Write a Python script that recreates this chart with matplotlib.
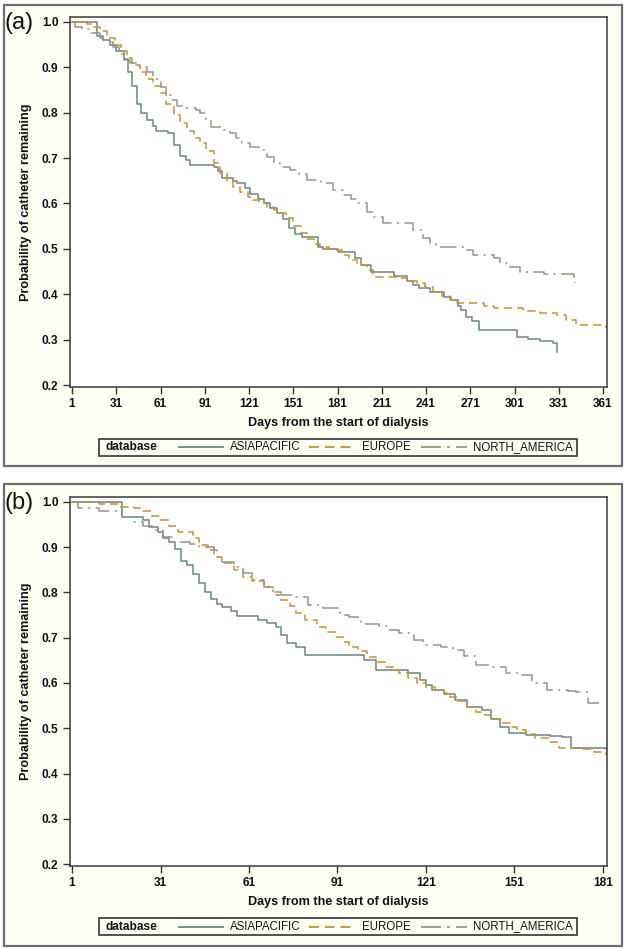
import matplotlib
matplotlib.use("Agg")
import matplotlib.pyplot as plt
from matplotlib.patches import Rectangle
from matplotlib.lines import Line2D

plt.rcParams['font.family'] = ['Liberation Sans', 'DejaVu Sans']

# ---------------- data ----------------
series_names = ["ASIAPACIFIC", "EUROPE", "NORTH_AMERICA"]

# Panel (a): 1-year
asia_a_days = [1, 18, 22, 27, 31, 36, 39, 42, 45, 48, 52, 56, 58, 66, 70, 74, 78, 81, 97, 100, 103, 110,
               113, 118, 122, 127, 131, 135, 140, 144, 148, 152, 157, 168, 171, 181, 193, 197, 204, 219,
               228, 232, 236, 244, 253, 258, 263, 265, 268, 272, 277, 303, 310, 318, 327, 330]
asia_a_surv = [1.0, 0.97, 0.96, 0.95, 0.935, 0.918, 0.89, 0.86, 0.82, 0.80, 0.785, 0.77, 0.76, 0.755, 0.73,
               0.705, 0.695, 0.685, 0.68, 0.672, 0.656, 0.65, 0.645, 0.635, 0.622, 0.61, 0.60, 0.59, 0.578,
               0.565, 0.545, 0.532, 0.527, 0.505, 0.50, 0.494, 0.48, 0.465, 0.45, 0.44, 0.43, 0.42, 0.413,
               0.406, 0.395, 0.387, 0.375, 0.365, 0.35, 0.34, 0.321, 0.306, 0.302, 0.298, 0.293, 0.273]

europe_a_days = [1, 11, 15, 20, 25, 30, 34, 38, 42, 47, 51, 56, 61, 65, 70, 74, 79, 84, 88, 92, 97, 101,
                 106, 110, 115, 120, 124, 128, 133, 138, 142, 146, 151, 156, 160, 165, 169, 175, 178, 184,
                 189, 194, 201, 205, 223, 228, 235, 240, 246, 252, 257, 262, 273, 280, 287, 300, 307, 318,
                 330, 336, 343, 357, 363]
europe_a_surv = [1.0, 0.995, 0.99, 0.98, 0.965, 0.95, 0.935, 0.92, 0.905, 0.89, 0.875, 0.86, 0.843, 0.82,
                 0.795, 0.777, 0.76, 0.745, 0.733, 0.715, 0.69, 0.667, 0.65, 0.637, 0.625, 0.615, 0.607,
                 0.60, 0.592, 0.585, 0.579, 0.568, 0.55, 0.535, 0.522, 0.51, 0.504, 0.50, 0.497, 0.487,
                 0.475, 0.465, 0.453, 0.439, 0.436, 0.43, 0.425, 0.415, 0.406, 0.397, 0.387, 0.38, 0.38,
                 0.375, 0.37, 0.37, 0.362, 0.358, 0.354, 0.343, 0.332, 0.332, 0.326]

namerica_a_days = [1, 3, 8, 14, 20, 25, 29, 33, 36, 40, 47, 52, 56, 61, 65, 68, 72, 78, 85, 88, 92, 95,
                   103, 108, 112, 116, 122, 128, 133, 138, 142, 149, 155, 160, 170, 178, 185, 190, 194,
                   201, 205, 212, 225, 232, 239, 244, 248, 262, 266, 273, 287, 291, 298, 305, 312, 321,
                   339, 341, 342]
namerica_a_surv = [1.0, 0.99, 0.985, 0.975, 0.965, 0.955, 0.945, 0.93, 0.916, 0.91, 0.901, 0.89, 0.875,
                   0.857, 0.84, 0.828, 0.815, 0.81, 0.805, 0.799, 0.785, 0.769, 0.762, 0.755, 0.745, 0.733,
                   0.725, 0.718, 0.703, 0.69, 0.68, 0.674, 0.665, 0.652, 0.645, 0.63, 0.619, 0.61, 0.601,
                   0.581, 0.57, 0.557, 0.557, 0.542, 0.524, 0.512, 0.505, 0.505, 0.497, 0.486, 0.48, 0.469,
                   0.46, 0.45, 0.45, 0.445, 0.445, 0.431, 0.425]

# Panel (b): 6-month
asia_b_days = [1, 18, 25, 27, 30, 32, 34, 36, 38, 40, 42, 44, 46, 48, 50, 52, 55, 57, 64, 67, 70, 72, 74,
               77, 80, 100, 104, 115, 119, 121, 123, 127, 131, 135, 140, 143, 146, 149, 155, 163, 167,
               170, 182]
asia_b_surv = [1.0, 0.967, 0.96, 0.945, 0.934, 0.92, 0.912, 0.895, 0.87, 0.86, 0.84, 0.82, 0.80, 0.785,
               0.775, 0.769, 0.76, 0.747, 0.74, 0.732, 0.724, 0.705, 0.688, 0.68, 0.662, 0.651, 0.629,
               0.622, 0.607, 0.595, 0.585, 0.575, 0.562, 0.547, 0.54, 0.52, 0.503, 0.489, 0.486, 0.483,
               0.481, 0.456, 0.455]

europe_b_days = [1, 10, 17, 22, 25, 28, 31, 34, 37, 42, 44, 47, 50, 52, 56, 59, 62, 66, 69, 72, 75, 77,
                 80, 84, 87, 90, 93, 95, 98, 101, 104, 107, 110, 112, 115, 118, 121, 124, 127, 129, 132,
                 135, 138, 141, 144, 147, 150, 152, 155, 158, 163, 166, 173, 178, 182]
europe_b_surv = [1.0, 0.995, 0.99, 0.987, 0.98, 0.97, 0.96, 0.947, 0.934, 0.92, 0.905, 0.894, 0.878,
                 0.865, 0.85, 0.835, 0.825, 0.813, 0.80, 0.784, 0.77, 0.755, 0.74, 0.724, 0.712, 0.702,
                 0.69, 0.68, 0.67, 0.658, 0.647, 0.636, 0.628, 0.622, 0.61, 0.60, 0.592, 0.585, 0.577,
                 0.57, 0.56, 0.548, 0.535, 0.529, 0.52, 0.511, 0.503, 0.496, 0.487, 0.478, 0.47, 0.456,
                 0.455, 0.448, 0.441]

namerica_b_days = [1, 3, 10, 18, 22, 25, 28, 32, 35, 41, 44, 49, 52, 56, 59, 62, 66, 69, 77, 81, 86, 92,
                   95, 99, 105, 108, 112, 117, 120, 126, 130, 134, 138, 143, 148, 153, 157, 162, 169, 172,
                   176, 181]
namerica_b_surv = [1.0, 0.987, 0.979, 0.967, 0.956, 0.947, 0.938, 0.923, 0.912, 0.907, 0.901, 0.879,
                   0.868, 0.857, 0.843, 0.828, 0.813, 0.795, 0.79, 0.772, 0.765, 0.75, 0.745, 0.73, 0.725,
                   0.718, 0.71, 0.695, 0.684, 0.68, 0.673, 0.66, 0.64, 0.636, 0.622, 0.618, 0.60, 0.585,
                   0.583, 0.58, 0.555, 0.555]

xticks_a = [1, 31, 61, 91, 121, 151, 181, 211, 241, 271, 301, 331, 361]
xticks_b = [1, 31, 61, 91, 121, 151, 181]
yticks = [0.2, 0.3, 0.4, 0.5, 0.6, 0.7, 0.8, 0.9, 1.0]
ytick_labels = ["0.2", "0.3", "0.4", "0.5", "0.6", "0.7", "0.8", "0.9", "1.0"]

# ---------------- styles ----------------
W, H = 626, 948
CREAM = '#FFFFF6'
FRAME = '#6E6E6E'
colors = ['#6A8680', '#C8922E', '#95958A']
dashes = [None, (5.5, 3.2), (11, 3.5, 1.4, 3.5)]
TICKFS = 8.6
LEGFS = 8.3
LABFS = 9.1

fig = plt.figure(figsize=(W / 100, H / 100), dpi=100)
fig.patch.set_facecolor('white')


def fx(px):
    return px / W


def fy(py):
    return 1 - py / H


def frame(top, bottom):
    r = Rectangle((fx(3.5), fy(bottom)), fx(618.5), (bottom - top) / H, transform=fig.transFigure,
                  facecolor=CREAM, edgecolor=FRAME, linewidth=1.6, zorder=0)
    fig.add_artist(r)


def legend(top, bottom):
    r = Rectangle((fx(99), fy(bottom)), fx(577) - fx(99), (bottom - top) / H, transform=fig.transFigure,
                  facecolor=CREAM, edgecolor='#333333', linewidth=1.2, zorder=2)
    fig.add_artist(r)
    yc = fy((top + bottom) / 2)
    fig.text(fx(105), yc, "database", fontsize=LEGFS + 0.3, fontweight='bold', va='center', ha='left',
             color='#111111', zorder=3)
    segs = [(179, 223, 230), (309, 352, 362), (421, 467, 473)]
    for (x0, x1, tx), name, c, d in zip(segs, series_names, colors, dashes):
        ln = Line2D([fx(x0), fx(x1)], [yc, yc], transform=fig.transFigure, color=c, lw=1.3, zorder=3)
        if d is not None:
            ln.set_dashes(d)
        fig.add_artist(ln)
        fig.text(fx(tx), yc, name, fontsize=LEGFS, va='center', ha='left', color='#111111', zorder=3)


def panel(top, bottom, xlim, xticks, data, label, frame_top, frame_bottom, leg_top, leg_bottom):
    frame(frame_top, frame_bottom)
    ax = fig.add_axes([fx(69.5), fy(bottom), fx(607) - fx(69.5), (bottom - top) / H])
    ax.set_facecolor('white')
    for (d, s), c, ds in zip(data, colors, dashes):
        ln, = ax.step(d, s, where='post', color=c, lw=1.1)
        if ds is not None:
            ln.set_dashes(ds)
    ax.set_xlim(*xlim)
    ax.set_ylim(0.1956, 1.011)
    ax.set_xticks(xticks)
    ax.set_xticklabels([str(t) for t in xticks])
    ax.set_yticks(yticks)
    ax.set_yticklabels(ytick_labels)
    for lab in ax.get_xticklabels() + ax.get_yticklabels():
        lab.set_fontweight('bold')
        lab.set_fontsize(TICKFS)
        lab.set_color('#111111')
    ax.tick_params(direction='out', length=5, width=1.0, color='#333333', pad=3)
    for sp in ax.spines.values():
        sp.set_color('#3A3A3A')
        sp.set_linewidth(1.1)
    ax.set_xlabel("Days from the start of dialysis", fontsize=LABFS, fontweight='bold', labelpad=5,
                  color='#111111')
    ax.set_ylabel("Probability of catheter remaining", fontsize=LABFS, fontweight='bold', labelpad=7,
                  color='#111111')
    fig.text(fx(4), fy(frame_top + 19), label, fontsize=17, va='center', ha='left', color='#111111')
    legend(leg_top, leg_bottom)
    return ax


panel(17, 387, (-0.7, 363.7), xticks_a,
      [(asia_a_days, asia_a_surv), (europe_a_days, europe_a_surv), (namerica_a_days, namerica_a_surv)],
      "(a)", 4.5, 465.5, 439, 456)
panel(497, 866, (0.15, 182.36), xticks_b,
      [(asia_b_days, asia_b_surv), (europe_b_days, europe_b_surv), (namerica_b_days, namerica_b_surv)],
      "(b)", 484, 946, 918, 935)

fig.savefig("out.png", dpi=100, facecolor='white')
